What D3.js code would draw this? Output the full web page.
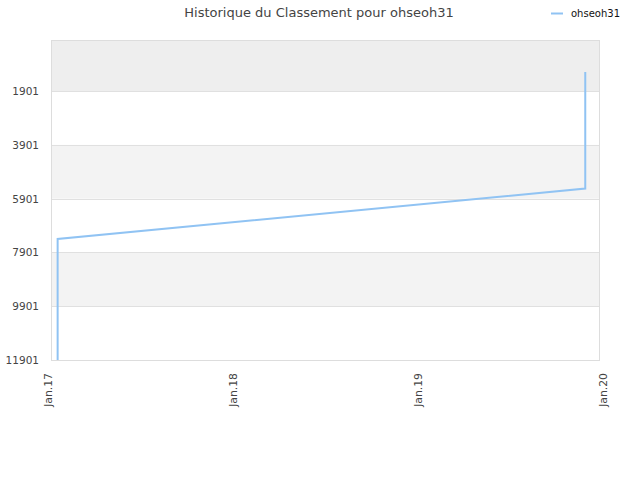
<!DOCTYPE html>
<html>
<head>
<meta charset="utf-8">
<script src="https://cdn.jsdelivr.net/npm/d3@7"></script>
<style>
  html, body { margin: 0; padding: 0; background: #fff; }
  svg { display: block; font-family: "DejaVu Sans", sans-serif; }
</style>
</head>
<body>
<svg id="chart" width="640" height="480"></svg>
<script>
const title = "Historique du Classement pour ohseoh31";
const seriesName = "ohseoh31";
const dates = ["2017-01-20","2017-01-20","2017-01-20","2017-01-20","2017-01-20","2017-01-20","2017-01-20","2017-01-20","2017-01-20","2017-01-20","2019-11-27","2019-11-27"];
const ranks = [11901, 10451, 9670, 9224, 8814, 8480, 8220, 8034, 7725, 7401, 5523, 1195];
const yTicks = [1901, 3901, 5901, 7901, 9901, 11901];
const bands = [[1, 1901, "#eeeeee"], [3901, 5901, "#f3f3f3"], [7901, 9901, "#f3f3f3"]];
const xTickDates = ["2017-01-01","2018-01-01","2019-01-01","2020-01-01"];
const xTickLabels = ["Jan.17","Jan.18","Jan.19","Jan.20"];

const parse = d3.utcParse("%Y-%m-%d");
const data = dates.map((d, i) => ({ date: parse(d), rank: ranks[i] }));

const svg = d3.select("#chart");
const plot = { left: 51, right: 600, top: 40, bottom: 360 };

const x = d3.scaleUtc()
  .domain([parse("2017-01-01"), parse("2020-01-01")])
  .range([48, 603]);
const y = d3.scaleLinear().domain([1, 11901]).range([plot.top, plot.bottom]);

// bands
svg.append("g").selectAll("rect").data(bands).join("rect")
  .attr("x", plot.left).attr("width", plot.right - plot.left)
  .attr("y", d => y(d[0])).attr("height", d => y(d[1]) - y(d[0]))
  .attr("fill", d => d[2]);

// grid lines
svg.append("g").selectAll("line").data(yTicks).join("line")
  .attr("x1", plot.left).attr("x2", plot.right)
  .attr("y1", d => Math.round(y(d)) + 0.5).attr("y2", d => Math.round(y(d)) + 0.5)
  .attr("stroke", "#e0e0e0").attr("stroke-width", 1);

// frame
svg.append("rect")
  .attr("x", plot.left + 0.5).attr("y", plot.top + 0.5)
  .attr("width", plot.right - plot.left - 1).attr("height", plot.bottom - plot.top)
  .attr("fill", "none").attr("stroke", "#dddddd");

// y axis
const yAxis = d3.axisLeft(y).tickValues(yTicks).tickSize(0).tickPadding(0).tickFormat(d3.format("d"));
const gy = svg.append("g").attr("transform", `translate(${plot.left - 12},0)`).call(yAxis);
gy.select(".domain").remove();
gy.selectAll("text").attr("fill", "#444").style("font-size", "10.5px").style("font-family", "DejaVu Sans");

// x axis
const xAxis = d3.axisBottom(x).tickValues(xTickDates.map(parse)).tickSize(0)
  .tickFormat((d, i) => xTickLabels[i]);
const gx = svg.append("g").attr("transform", `translate(0,${plot.bottom})`).call(xAxis);
gx.select(".domain").remove();
gx.selectAll("text")
  .attr("transform", "rotate(-90)")
  .attr("text-anchor", "end")
  .attr("x", -13).attr("y", 0).attr("dy", "0.35em")
  .attr("fill", "#444").style("font-size", "10.8px").style("font-family", "DejaVu Sans");

// line
const line = d3.line().x(d => x(d.date)).y(d => y(d.rank));
svg.append("path").datum(data)
  .attr("d", line).attr("fill", "none")
  .attr("stroke", "#90c3f3").attr("stroke-width", 2).attr("stroke-linejoin", "miter");

// title
svg.append("text").attr("x", 319).attr("y", 12).attr("dy", "0.35em")
  .attr("text-anchor", "middle").attr("fill", "#444")
  .style("font-size", "13px").text(title);

// legend
svg.append("line").attr("x1", 551).attr("x2", 563).attr("y1", 13.5).attr("y2", 13.5)
  .attr("stroke", "#90c3f3").attr("stroke-width", 2);
svg.append("text").attr("x", 571).attr("y", 13).attr("dy", "0.35em")
  .attr("fill", "#111").style("font-size", "10px").text(seriesName);
</script>
</body>
</html>
